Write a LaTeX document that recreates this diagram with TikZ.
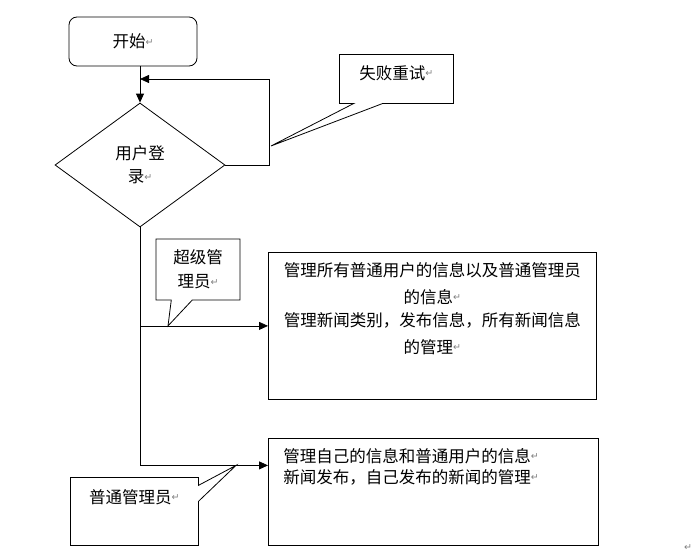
\documentclass[tikz,border=0pt]{standalone}
\usepackage{fontspec}
\setmainfont{Noto Sans CJK SC}
\newfontfamily\symfont{DejaVu Sans}
\usepackage{xcolor}
\usetikzlibrary{shapes.geometric,shapes.callouts,arrows.meta,positioning}

\newcommand{\retmark}{\raisebox{2.5pt}{\symfont\fontsize{9.5}{9.5}\selectfont\textcolor{gray}{↵}}}

\begin{document}
\begin{tikzpicture}[
  x=1pt, y=-1pt,
  every node/.style={font=\fontsize{16.5}{23}\selectfont},
  box/.style={draw=black, line width=0.8pt, inner sep=4pt},
  callbox/.style={box, rectangle callout, align=center},
  arr/.style={line width=0.8pt, -{Triangle[length=9pt,width=8pt]}},
  wire/.style={line width=0.8pt}]

  \useasboundingbox (0,0) rectangle (693,557);

  % start and login
  \node[box, rounded corners=8pt, minimum width=128pt, minimum height=49pt]
    (start) at (133,41.5) {开始\retmark};
  \node[box, diamond, minimum width=170pt, minimum height=124pt, inner sep=0pt,
    align=center] (login) at (140,165) {用户登\\录\retmark};

  % the two right hand boxes
  \node[box, anchor=north west, inner xsep=9pt, text width=310pt, align=center,
    text height=20pt, text depth=119pt] (superbox) at (268,252)
    {管理所有普通用户的信息以及普通管理员\\[4pt]的信息\retmark\\
     管理新闻类别，发布信息，所有新闻信息\\[4pt]的管理\retmark};
  \node[box, anchor=north west, inner xsep=15pt, text width=300pt, align=left,
    font=\fontsize{16.5}{21}\selectfont,
    text height=20pt, text depth=79pt] (commonbox) at (268,438)
    {管理自己的信息和普通用户的信息\retmark\\新闻发布，自己发布的新闻的管理\retmark};

  % connectors
  \coordinate (merge) at (login.north |- 0,79);
  \draw[arr] (start.south -| login.north) -- (login.north);
  \draw[arr] (login.east) -- ++(44,0) |- (merge);
  \coordinate (split) at (login.south |- superbox.west);
  \draw[wire] (login.south) -- (split);
  \draw[arr] (split) -- (superbox.west);
  \draw[arr] (split) |- ([yshift=26.5pt]commonbox.west);

  % callouts
  \coordinate (retrytip) at (271,146);
  \coordinate (supertip) at ([xshift=28pt]split);
  \coordinate (commontip) at ([yshift=26.5pt,xshift=-32pt]commonbox.west);
  \node[callbox, anchor=north west, minimum width=114pt, text height=21pt,
    text depth=20pt, callout pointer width=29pt,
    callout absolute pointer=(retrytip)] (retry) at (339,54) {失败重试\retmark};
  \node[callbox, minimum width=84pt, minimum height=61pt,
    font=\fontsize{16.5}{24}\selectfont, callout pointer width=21pt,
    callout absolute pointer=(supertip)] (superlbl) at (198,269.5)
    {超级管\\理员\retmark};
  \node[callbox, anchor=north west, minimum width=128pt, text height=22pt,
    text depth=38pt, callout pointer width=16pt,
    callout absolute pointer=(commontip)] (commonlbl) at (70,477)
    {普通管理员\retmark};

  \node[inner sep=0pt] (endmark) at (688,549) {\retmark};
\end{tikzpicture}
\end{document}
